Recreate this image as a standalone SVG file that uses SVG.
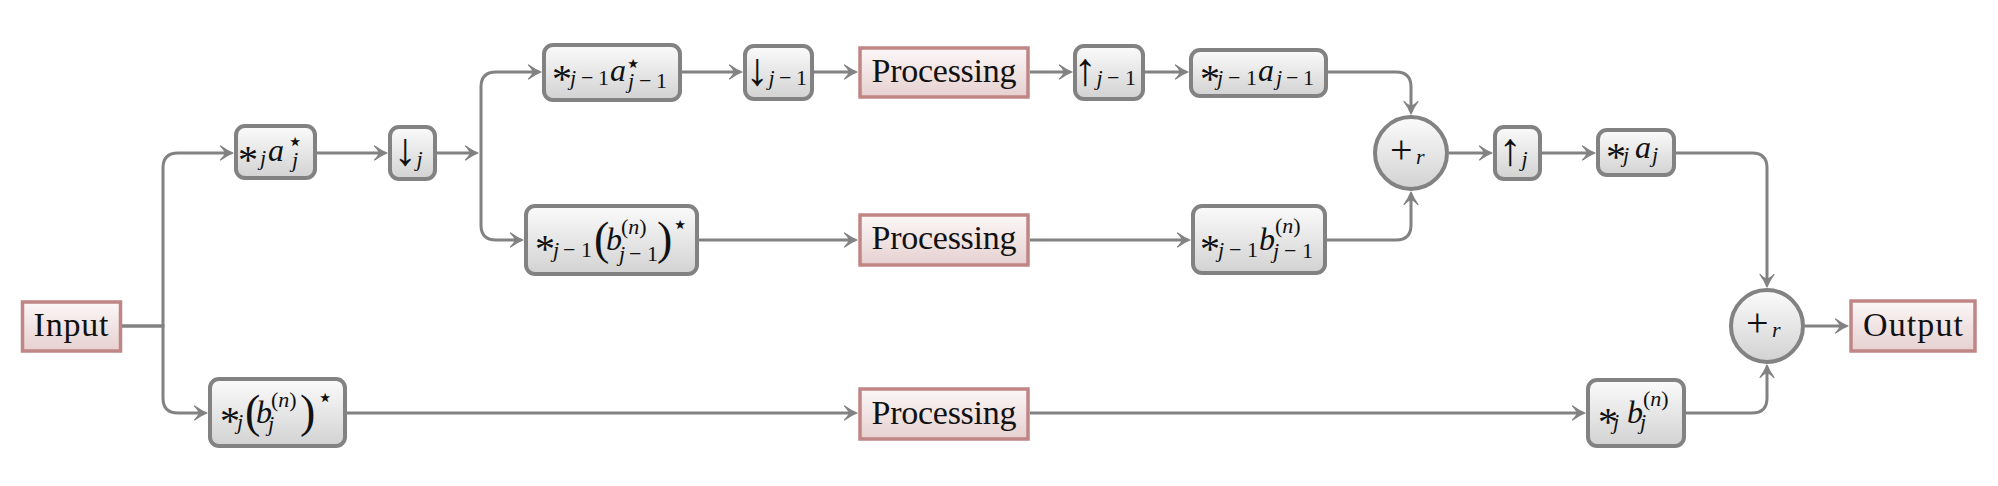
<svg xmlns="http://www.w3.org/2000/svg" width="1998" height="486" viewBox="0 0 1998 486">
<defs>
<linearGradient id="gg" x1="0" y1="0" x2="0" y2="1"><stop offset="0" stop-color="#fbfbfb"/><stop offset="1" stop-color="#d2d2d2"/></linearGradient>
<linearGradient id="pg" x1="0" y1="0" x2="0" y2="1"><stop offset="0" stop-color="#fcf7f7"/><stop offset="1" stop-color="#e6d0d0"/></linearGradient>
<marker id="ah" viewBox="-10 -10 20 20" markerWidth="20" markerHeight="20" refX="0" refY="0" orient="auto" markerUnits="userSpaceOnUse">
<path d="M6,0 Q0,-2.2 -6.5,-7 Q-2,-2.5 -2,0 Q-2,2.5 -6.5,7 Q0,2.2 6,0 Z" fill="#828282" stroke="#828282" stroke-width="1.2" stroke-linejoin="round"/>
</marker>
</defs>
<style>
.n{fill:url(#gg);stroke:#828282;stroke-width:4}
.p{fill:url(#pg);stroke:#c08585;stroke-width:3.5}
.c{fill:none;stroke:#828282;stroke-width:3}
.a{marker-end:url(#ah)}
text{font-family:"Liberation Serif","Times New Roman",serif;font-size:32px;fill:#111}
.w{font-size:34px}
.i{font-style:italic}
.s{font-size:22px}
.ast{font-size:40px;font-style:normal}
.st{font-family:"DejaVu Sans",sans-serif;font-size:26px;font-style:normal}
.big{font-size:46px}
.ar{font-size:46px}
.pl{font-size:40px}
</style>

<g id="connectors">
<path class="c a" d="M122,326 H163 V168 Q163,153 178,153 H227"/>
<path class="c a" d="M122,326 H163 V398 Q163,413 178,413 H201"/>
<path class="c a" d="M317,153 H381"/>
<path class="c a" d="M437,153 H472"/>
<path class="c a" d="M481,153 V87 Q481,72 496,72 H535"/>
<path class="c a" d="M481,153 V225 Q481,240 496,240 H517"/>
<path class="c a" d="M682,72 H736"/>
<path class="c a" d="M814,72 H851"/>
<path class="c a" d="M1030,72 H1066"/>
<path class="c a" d="M1145,72 H1182"/>
<path class="c a" d="M1328,72 H1396 Q1411,72 1411,87 V108"/>
<path class="c a" d="M699,240 H851"/>
<path class="c a" d="M1030,240 H1184"/>
<path class="c a" d="M1327,240 H1396 Q1411,240 1411,225 V198"/>
<path class="c a" d="M1449,153 H1486"/>
<path class="c a" d="M1542,153 H1589"/>
<path class="c a" d="M1676,153 H1752 Q1767,153 1767,168 V281"/>
<path class="c a" d="M347,413 H851"/>
<path class="c a" d="M1030,413 H1579"/>
<path class="c a" d="M1686,413 H1752 Q1767,413 1767,398 V371"/>
<path class="c a" d="M1805,326 H1842"/>
</g>

<g id="input">
<rect class="p" x="22.5" y="302" width="98" height="49"/>
<text class="w" x="71" y="336" text-anchor="middle" textLength="75">Input</text>
</g>

<g id="ja-star">
<rect class="n" x="236" y="126" width="79" height="52" rx="9"/>
<text><tspan class="ast" x="238" y="173">*</tspan><tspan class="s i" x="260" y="165">j</tspan><tspan class="i" x="268" y="160.5">a</tspan><tspan class="st" x="287" y="150">⋆</tspan><tspan class="s i" x="292" y="167">j</tspan></text>
</g>

<g id="down-j">
<rect class="n" x="390" y="127" width="45" height="52" rx="9"/>
<text><tspan class="ar" x="393.5" y="165">↓</tspan><tspan class="s i" x="416.5" y="166">j</tspan></text>
</g>

<g id="j1a-star">
<rect class="n" x="544" y="45" width="136" height="55" rx="9"/>
<text><tspan class="ast" x="552" y="92">*</tspan><tspan class="s i" x="570" y="85">j</tspan><tspan class="s" x="581" y="85">−</tspan><tspan class="s" x="598" y="85">1</tspan><tspan class="i" x="610" y="80.5">a</tspan><tspan class="st" x="625" y="72">⋆</tspan><tspan class="s i" x="628" y="88">j</tspan><tspan class="s" x="639" y="88">−</tspan><tspan class="s" x="656" y="88">1</tspan></text>
</g>

<g id="down-j1">
<rect class="n" x="745" y="46" width="67" height="53" rx="9"/>
<text><tspan class="ar" x="745.5" y="85">↓</tspan><tspan class="s i" x="768.5" y="85">j</tspan><tspan class="s" x="779" y="85">−</tspan><tspan class="s" x="796" y="85">1</tspan></text>
</g>

<g id="proc1">
<rect class="p" x="860" y="48" width="168" height="49"/>
<text class="w" x="944" y="82" text-anchor="middle" textLength="145">Processing</text>
</g>

<g id="up-j1">
<rect class="n" x="1075" y="46" width="68" height="53" rx="9"/>
<text><tspan class="ar" x="1073.5" y="85">↑</tspan><tspan class="s i" x="1096.5" y="85">j</tspan><tspan class="s" x="1107" y="85">−</tspan><tspan class="s" x="1125" y="85">1</tspan></text>
</g>

<g id="j1a">
<rect class="n" x="1191" y="50" width="135" height="46" rx="9"/>
<text><tspan class="ast" x="1200" y="91.5">*</tspan><tspan class="s i" x="1217" y="85">j</tspan><tspan class="s" x="1228" y="85">−</tspan><tspan class="s" x="1246" y="85">1</tspan><tspan class="i" x="1258" y="80.5">a</tspan><tspan class="s i" x="1276" y="85">j</tspan><tspan class="s" x="1286" y="85">−</tspan><tspan class="s" x="1303" y="85">1</tspan></text>
</g>

<g id="sum1">
<circle class="n" cx="1411" cy="153" r="36"/>
<text><tspan class="pl" x="1390" y="163">+</tspan><tspan class="s i" x="1416" y="164">r</tspan></text>
</g>

<g id="up-j">
<rect class="n" x="1495" y="127" width="45" height="52" rx="9"/>
<text><tspan class="ar" x="1498.5" y="165">↑</tspan><tspan class="s i" x="1521.5" y="166">j</tspan></text>
</g>

<g id="ja">
<rect class="n" x="1598" y="130" width="76" height="45" rx="9"/>
<text><tspan class="ast" x="1606" y="170">*</tspan><tspan class="s i" x="1623" y="162">j</tspan><tspan class="i" x="1635" y="157.5">a</tspan><tspan class="s i" x="1652" y="162">j</tspan></text>
</g>

<g id="sum2">
<circle class="n" cx="1767" cy="326" r="36"/>
<text><tspan class="pl" x="1746" y="336">+</tspan><tspan class="s i" x="1772" y="337">r</tspan></text>
</g>

<g id="output">
<rect class="p" x="1851" y="301" width="124" height="50"/>
<text class="w" x="1913" y="336" text-anchor="middle" textLength="100">Output</text>
</g>

<g id="j1b-star">
<rect class="n" x="526" y="206" width="171" height="68" rx="9"/>
<text><tspan class="ast" x="535" y="262">*</tspan><tspan class="s i" x="553" y="257">j</tspan><tspan class="s" x="563" y="257">−</tspan><tspan class="s" x="581" y="257">1</tspan><tspan class="big" x="594" y="254">(</tspan><tspan class="i" x="606" y="250">b</tspan><tspan class="s" x="621" y="234">(</tspan><tspan class="s i">n</tspan><tspan class="s">)</tspan><tspan class="s i" x="619" y="261">j</tspan><tspan class="s" x="629" y="261">−</tspan><tspan class="s" x="647" y="261">1</tspan><tspan class="big" x="657" y="254">)</tspan><tspan class="st" x="672" y="233">⋆</tspan></text>
</g>

<g id="proc2">
<rect class="p" x="860" y="215" width="168" height="50"/>
<text class="w" x="944" y="249" text-anchor="middle" textLength="145">Processing</text>
</g>

<g id="j1b">
<rect class="n" x="1193" y="206" width="132" height="67" rx="9"/>
<text><tspan class="ast" x="1200" y="262">*</tspan><tspan class="s i" x="1218" y="257">j</tspan><tspan class="s" x="1229" y="257">−</tspan><tspan class="s" x="1247" y="257">1</tspan><tspan class="i" x="1259" y="250">b</tspan><tspan class="s" x="1275" y="233">(</tspan><tspan class="s i">n</tspan><tspan class="s">)</tspan><tspan class="s i" x="1273" y="258">j</tspan><tspan class="s" x="1284" y="258">−</tspan><tspan class="s" x="1302" y="258">1</tspan></text>
</g>

<g id="jb-star">
<rect class="n" x="210" y="379" width="135" height="67" rx="9"/>
<text><tspan class="ast" x="220" y="434">*</tspan><tspan class="s i" x="237" y="429">j</tspan><tspan class="big" x="245" y="427">(</tspan><tspan class="i" x="256" y="423">b</tspan><tspan class="s" x="271" y="407">(</tspan><tspan class="s i">n</tspan><tspan class="s">)</tspan><tspan class="s i" x="268" y="431">j</tspan><tspan class="big" x="300" y="427">)</tspan><tspan class="st" x="317" y="406">⋆</tspan></text>
</g>

<g id="proc3">
<rect class="p" x="860" y="389" width="168" height="50"/>
<text class="w" x="944" y="424" text-anchor="middle" textLength="145">Processing</text>
</g>

<g id="jb">
<rect class="n" x="1588" y="380" width="96" height="66" rx="9"/>
<text><tspan class="ast" x="1598" y="435">*</tspan><tspan class="s i" x="1613" y="429">j</tspan><tspan class="i" x="1627" y="423">b</tspan><tspan class="s" x="1643" y="406">(</tspan><tspan class="s i">n</tspan><tspan class="s">)</tspan><tspan class="s i" x="1640" y="429">j</tspan></text>
</g>
</svg>
